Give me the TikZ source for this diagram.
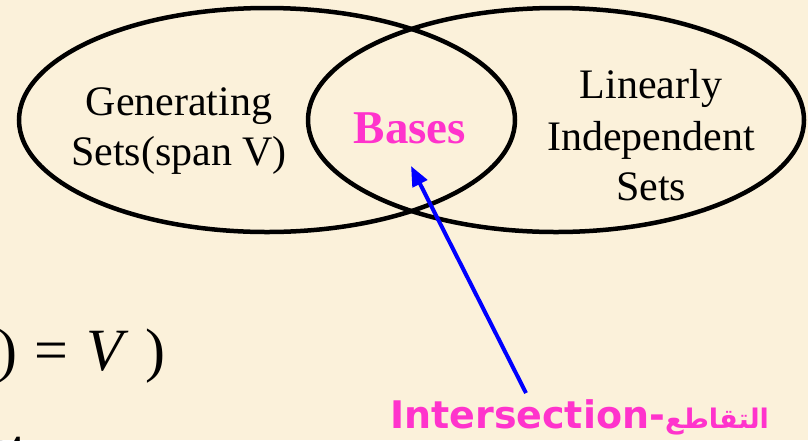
\documentclass[tikz,border=0pt]{standalone}
\usepackage{fontspec}
\setmainfont{Liberation Serif}
\newfontfamily\labelsans{DejaVu Sans}
\newfontfamily\arabicfont[Script=Arabic]{DejaVu Sans}
\TeXXeTstate=1
\usetikzlibrary{arrows.meta}
\definecolor{parchment}{HTML}{FBF1DA}
\definecolor{setpink}{HTML}{FF33CC}
\definecolor{pointerblue}{HTML}{0000FF}

\begin{document}
\begin{tikzpicture}[x=1pt,y=-1pt,
  setline/.style={draw=black,line width=4.5pt},
  settext/.style={anchor=base,inner sep=0pt,font=\fontsize{42}{51}\selectfont},
  pinktext/.style={inner sep=0pt,text=setpink},
  pointer/.style={draw=pointerblue,line width=4pt,-{Triangle[length=20pt,width=16pt]}},
  bigtext/.style={anchor=base west,inner sep=0pt,font=\fontsize{60}{70}\selectfont}]

% page
\fill[parchment] (0,0) rectangle (808,440);
\useasboundingbox (0,0) rectangle (808,440);

% the two overlapping sets
\draw[setline] (267,120) ellipse [x radius=248pt, y radius=112pt];
\draw[setline] (556,120) ellipse [x radius=248pt, y radius=112pt];

% set labels
\node[settext] (gen1) at (179,115) {Generating};
\node[settext] (gen2) at (179,165) {Sets(span V)};
\node[settext] (lin1) at (651,98) {Linearly};
\node[settext] (lin2) at (651,150) {Independent};
\node[settext] (lin3) at (651,200) {Sets};

% intersection
\node[pinktext,anchor=base,font=\bfseries\fontsize{47}{56}\selectfont] (bases) at (410,143) {Bases};

% pointer to the intersection
\node[pinktext,anchor=base west,font=\labelsans\bfseries\fontsize{38}{44}\selectfont] (inter) at (390,428)
  {Intersection-{\arabicfont\fontsize{27}{32}\selectfont\beginR التقاطع\endR}};
\coordinate (tail) at (526,393);
\coordinate (tip) at (411,166);
\draw[pointer] (tail) -- (tip);

% slide text running off the edge
\node[bigtext] (eq) at (-3,370) {)\hspace{17pt}=\hspace{18pt}\textit{V}\hspace{17pt})};
\node[anchor=base west,inner sep=0pt,font=\bfseries\fontsize{45}{54}\selectfont] (cut) at (-10,462) {et};
\end{tikzpicture}
\end{document}
